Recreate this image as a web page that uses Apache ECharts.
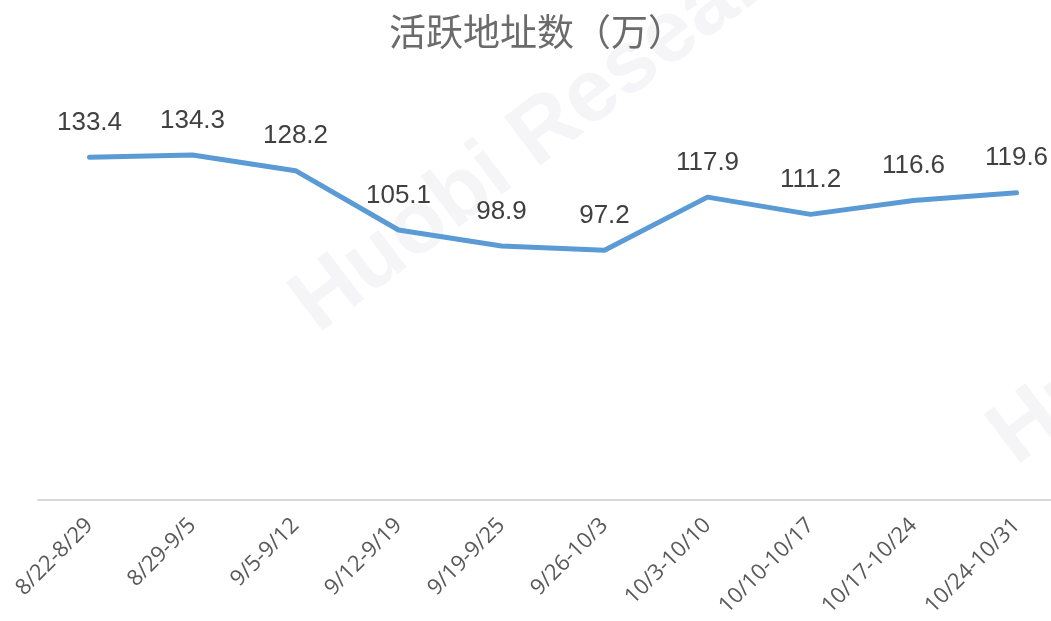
<!DOCTYPE html>
<html>
<head>
<meta charset="utf-8">
<title>活跃地址数</title>
<script src="https://cdn.jsdelivr.net/npm/echarts@6/dist/echarts.min.js"></script>
<style>
  html, body { margin: 0; padding: 0; background: #fff; }
  #chart { width: 1051px; height: 621px; }
</style>
</head>
<body>
<div id="chart"></div>
<script>
const weeks = [
  '8/22-8/29', '8/29-9/5', '9/5-9/12', '9/12-9/19', '9/19-9/25',
  '9/26-10/3', '10/3-10/10', '10/10-10/17', '10/17-10/24', '10/24-10/31'
]
const activeAddresses = [133.4, 134.3, 128.2, 105.1, 98.9, 97.2, 117.9, 111.2, 116.6, 119.6]

const chart = echarts.init(document.getElementById('chart'))

// faint watermark behind the chart
const watermark = (x, y) => ({
  type: 'text',
  x: x,
  y: y,
  rotation: 0.65,
  z: -10,
  silent: true,
  style: {
    text: 'Huobi Research',
    fontFamily: 'Liberation Sans',
    fontWeight: 'bold',
    fontSize: 88,
    fill: '#f5f5f7',
    textAlign: 'left',
    textVerticalAlign: 'bottom'
  }
})

const option = {
  animation: false,
  title: {
    text: '活跃地址数（万）',
    left: 384,
    top: 8,
    textStyle: {
      fontFamily: 'Noto Sans CJK SC',
      fontWeight: 'normal',
      fontSize: 37,
      color: '#6b6b6b'
    }
  },
  graphic: [watermark(330, 350), watermark(1028, 482)],
  grid: {
    left: 38,
    top: 89,
    width: 1030,
    height: 411,
    outerBoundsMode: 'none'
  },
  xAxis: {
    type: 'category',
    data: weeks,
    boundaryGap: true,
    axisLine: { lineStyle: { color: '#d9d9d9', width: 2 } },
    axisTick: { show: false },
    axisLabel: {
      rotate: 45,
      interval: 0,
      margin: 22,
      fontFamily: 'Open Sans',
      fontSize: 22,
      color: '#595959'
    }
  },
  yAxis: {
    type: 'value',
    min: 0,
    max: 160,
    show: false
  },
  series: [
    {
      type: 'line',
      z: 5,
      data: activeAddresses,
      symbol: 'circle',
      symbolSize: 1,
      itemStyle: { color: '#5b9bd5' },
      lineStyle: { color: '#5b9bd5', width: 5, cap: 'round', join: 'round' },
      label: {
        show: true,
        position: 'top',
        distance: 21,
        fontFamily: 'Liberation Sans',
        fontSize: 26,
        color: '#404040'
      }
    }
  ]
}

chart.setOption(option)
</script>
</body>
</html>
